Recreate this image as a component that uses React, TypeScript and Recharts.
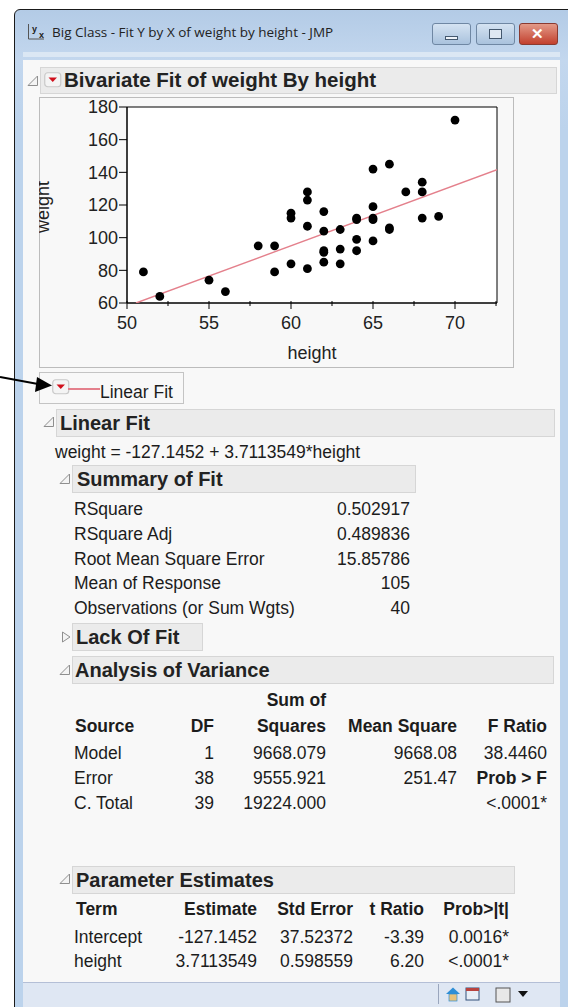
import { CSSProperties, ReactNode } from "react";
import { ReferenceArea, Scatter, ScatterChart, XAxis, YAxis } from "recharts";

const heights = [
  51, 52, 55, 56, 58, 59, 59, 60, 60, 60, 61, 61, 61, 61, 62, 62, 62, 62, 62, 63,
  63, 63, 64, 64, 64, 64, 65, 65, 65, 65, 65, 66, 66, 66, 67, 68, 68, 68, 69, 70,
];
const weights = [
  79, 64, 74, 67, 95, 95, 79, 84, 112, 115, 81, 107, 123, 128, 85, 91, 92, 104, 116, 84,
  93, 105, 92, 99, 111, 112, 98, 111, 112, 119, 142, 105, 106, 145, 128, 112, 128, 134, 113, 172,
];
const fitHeights = [50.55, 72.56];
const fitWeights = [60, 141.6];

const xTicks = [50, 52.5, 55, 57.5, 60, 62.5, 65, 67.5, 70, 72.5];
const yTicks = [60, 80, 100, 120, 140, 160, 180];

const summaryLabels = ["RSquare", "RSquare Adj", "Root Mean Square Error", "Mean of Response", "Observations (or Sum Wgts)"];
const summaryValues = ["0.502917", "0.489836", "15.85786", "105", "40"];
const summaryRowY = [509, 534, 559, 583, 608];

const anovaSources = ["Model", "Error", "C. Total"];
const anovaDf = ["1", "38", "39"];
const anovaSquares = ["9668.079", "9555.921", "19224.000"];
const anovaMean = ["9668.08", "251.47", ""];
const anovaF = ["38.4460", "Prob > F", "<.0001*"];
const anovaRowY = [753, 778, 803];

const paramTerms = ["Intercept", "height"];
const paramEstimates = ["-127.1452", "3.7113549"];
const paramStdErrors = ["37.52372", "0.598559"];
const paramTRatios = ["-3.39", "6.20"];
const paramProbs = ["0.0016*", "<.0001*"];
const paramRowY = [937, 961];

const points = heights.map((height, i) => ({ height, weight: weights[i] }));
const fitLine = fitHeights.map((height, i) => ({ height, weight: fitWeights[i] }));

const SANS = '"Liberation Sans", Arial, sans-serif';

function Text({
  x,
  right,
  y,
  size = 17.5,
  bold,
  font = SANS,
  color = "#1c1c1c",
  children,
}: {
  x?: number;
  right?: number;
  y: number;
  size?: number;
  bold?: boolean;
  font?: string;
  color?: string;
  children: ReactNode;
}) {
  const style: CSSProperties = {
    position: "absolute",
    top: y - 15,
    height: 30,
    lineHeight: "30px",
    fontFamily: font,
    fontSize: size,
    fontWeight: bold ? 700 : 400,
    color,
    whiteSpace: "nowrap",
  };
  if (right !== undefined) style.left = right - 300;
  else style.left = x;
  if (right !== undefined) {
    style.width = 300;
    style.textAlign = "right";
  }
  return <div style={style}>{children}</div>;
}

function Box({ x, y, w, h, style }: { x: number; y: number; w: number; h: number; style?: CSSProperties }) {
  return <div style={{ position: "absolute", left: x, top: y, width: w, height: h, boxSizing: "border-box", ...style }} />;
}

function Header({ x, y, w, h = 28, textX, size = 20, children }: { x: number; y: number; w: number; h?: number; textX: number; size?: number; children: string }) {
  return (
    <>
      <Box x={x} y={y} w={w} h={h} style={{ background: "#ebebeb", border: "1.5px solid #d6d6d6" }} />
      <Text x={textX} y={y + h / 2 - 0.5} size={size} bold color="#222">
        {children}
      </Text>
    </>
  );
}

function Disclosure({ x, y, closed }: { x: number; y: number; closed?: boolean }) {
  return (
    <svg style={{ position: "absolute", left: x, top: y }} width={12} height={12}>
      <path d={closed ? "M1.5 1 L9 6 L1.5 11 Z" : "M1 10.5 L10.5 10.5 L10.5 1 Z"} fill="#f4f4f4" stroke="#8f8f8f" strokeWidth={1} />
    </svg>
  );
}

function RedButton({ x, y }: { x: number; y: number }) {
  return (
    <svg style={{ position: "absolute", left: x, top: y }} width={18} height={16}>
      <rect x={0.75} y={0.75} width={16} height={14} rx={3} fill="#f4f4f4" stroke="#c9c9c9" strokeWidth={1.2} />
      <path d="M4.5 5.5 L13 5.5 L8.75 10 Z" fill="#d0101c" />
    </svg>
  );
}

function XTick({ x, y, payload }: any) {
  const major = payload.value % 5 === 0;
  return (
    <g>
      <line x1={x} x2={x} y1={y - 8} y2={y - 8 + (major ? 8 : 5)} stroke="#000" strokeWidth={1} />
      {major && (
        <text x={x} y={y + 20} textAnchor="middle" fontSize={18} fontFamily={SANS} fill="#222">
          {payload.value}
        </text>
      )}
    </g>
  );
}

function Dot({ cx, cy }: any) {
  return <circle cx={cx} cy={cy} r={4.4} fill="#000" />;
}

function BivariateChart() {
  return (
    <ScatterChart width={475} height={271} margin={{ top: 10, right: 17, bottom: 0, left: 0 }}>
      <XAxis
        type="number"
        dataKey="height"
        domain={[50, 72.56]}
        ticks={xTicks}
        interval={0}
        height={65}
        tick={<XTick />}
        tickLine={false}
        tickMargin={0}
        axisLine={{ stroke: "#000", strokeWidth: 1 }}
        allowDataOverflow
        label={{ value: "height", position: "insideBottom", offset: 9, fontSize: 18, fontFamily: SANS, fill: "#222", dx: 0 }}
      />
      <YAxis
        type="number"
        dataKey="weight"
        domain={[60, 180]}
        ticks={yTicks}
        interval={0}
        width={88}
        tick={{ fontSize: 18, fontFamily: SANS, fill: "#222" }}
        tickSize={8}
        tickMargin={1}
        tickLine={{ stroke: "#000" }}
        axisLine={{ stroke: "#000", strokeWidth: 1 }}
        allowDataOverflow
        label={{ value: "weight", angle: -90, position: "insideLeft", offset: 4, fontSize: 18, fontFamily: SANS, fill: "#222", dy: 28 }}
      />
      <ReferenceArea x1={50} x2={72.56} y1={60} y2={180} fill="#fff" fillOpacity={1} stroke="#000" strokeOpacity={1} />
      <Scatter data={fitLine} line={{ stroke: "#e4808c", strokeWidth: 1.4 }} shape={() => <g />} isAnimationActive={false} />
      <Scatter data={points} shape={<Dot />} isAnimationActive={false} />
    </ScatterChart>
  );
}

export default function App() {
  return (
    <div style={{ position: "absolute", left: 0, top: 0, width: 568, height: 1007, overflow: "hidden", background: "#fff" }}>
      {/* window frame */}
      <Box
        x={14}
        y={9}
        w={600}
        h={1040}
        style={{
          borderRadius: "6px 0 0 0",
          border: "1.5px solid #1a1a1a",
          background: "linear-gradient(180deg, #b3cbe6 0, #c3d7ee 50px, #bcd3ec 120px)",
        }}
      />
      <Box x={23} y={52} w={537} h={5} style={{ background: "#dbe7f4" }} />
      <Box x={23} y={60} w={537} h={922} style={{ background: "#f8f8f8" }} />
      <Box x={23} y={982} w={537} h={25} style={{ background: "#dfe7f3", borderTop: "1.5px solid #b4bfd6" }} />

      {/* title bar */}
      <svg style={{ position: "absolute", left: 26, top: 22 }} width={22} height={20}>
        <path d="M2.5 2 L2.5 17 L18 17" fill="none" stroke="#555" strokeWidth={1} />
        <text x={6} y={10} fontSize={9} fontWeight={700} fontFamily={SANS} fill="#222">y</text>
        <text x={13} y={16} fontSize={9} fontWeight={700} fontFamily={SANS} fill="#222">x</text>
      </svg>
      <Text x={52} y={32} size={13.5} font='"Open Sans", sans-serif' color="#222">
        Big Class - Fit Y by X of weight by height - JMP
      </Text>
      <Box x={432} y={23} w={39} h={22} style={{ borderRadius: 3, border: "1px solid #6f87a3", background: "linear-gradient(180deg, #d5e3f2, #a9c2dd)" }} />
      <Box x={445} y={36} w={13} h={4} style={{ background: "#eef3f9", border: "1px solid #44586e" }} />
      <Box x={476} y={23} w={39} h={22} style={{ borderRadius: 3, border: "1px solid #6f87a3", background: "linear-gradient(180deg, #d5e3f2, #a9c2dd)" }} />
      <Box x={489} y={29} w={13} h={10} style={{ background: "#dfe8f2", border: "1.5px solid #44586e" }} />
      <Box x={519} y={23} w={39} h={22} style={{ borderRadius: 3, border: "1px solid #8a3a30", background: "linear-gradient(180deg, #e39a88, #c2402e)" }} />
      <Text x={531} y={33.5} size={15} bold color="#fff">✕</Text>

      {/* bivariate section */}
      <Disclosure x={27} y={75} />
      <Header x={40} y={67} w={517} h={27} textX={64} size={20.5}>Bivariate Fit of weight By height</Header>
      <RedButton x={44} y={72} />
      <Box x={39} y={97} w={475} h={271} style={{ border: "1.5px solid #bcbcbc" }} />
      <div style={{ position: "absolute", left: 39, top: 97 }}>
        <BivariateChart />
      </div>

      {/* legend */}
      <Box x={39} y={372} w={145} h={32} style={{ border: "1.5px solid #c4c4c4" }} />
      <RedButton x={52} y={379} />
      <Box x={68} y={388} w={32} h={1.5} style={{ background: "#e4808c" }} />
      <Text x={100} y={392} size={17.5}>Linear Fit</Text>

      {/* arrow callout */}
      <svg style={{ position: "absolute", left: 0, top: 370 }} width={60} height={30}>
        <line x1={0} y1={7} x2={38} y2={14} stroke="#000" strokeWidth={2} />
        <path d="M52 15.5 L35 22 L37 7 Z" fill="#000" />
      </svg>

      {/* linear fit */}
      <Disclosure x={43} y={416} />
      <Header x={56} y={409} w={499} textX={60}>Linear Fit</Header>
      <Text x={55} y={452}>weight = -127.1452 + 3.7113549*height</Text>

      <Disclosure x={59} y={473} />
      <Header x={72} y={465} w={344} textX={77}>Summary of Fit</Header>
      {summaryLabels.map((label, i) => (
        <Text key={label} x={74} y={summaryRowY[i]}>{label}</Text>
      ))}
      {summaryValues.map((value, i) => (
        <Text key={i} right={410} y={summaryRowY[i]}>{value}</Text>
      ))}

      <Disclosure x={61} y={631} closed />
      <Header x={72} y={623} w={131} textX={76}>Lack Of Fit</Header>

      <Disclosure x={59} y={664} />
      <Header x={72} y={656} w={482} textX={75}>Analysis of Variance</Header>
      <Text right={326} y={700} bold>Sum of</Text>
      <Text x={75} y={726} bold>Source</Text>
      <Text right={214} y={726} bold>DF</Text>
      <Text right={326} y={726} bold>Squares</Text>
      <Text right={457} y={726} bold>Mean Square</Text>
      <Text right={547} y={726} bold>F Ratio</Text>
      {anovaSources.map((source, i) => (
        <div key={source}>
          <Text x={74} y={anovaRowY[i]}>{source}</Text>
          <Text right={214} y={anovaRowY[i]}>{anovaDf[i]}</Text>
          <Text right={326} y={anovaRowY[i]}>{anovaSquares[i]}</Text>
          <Text right={457} y={anovaRowY[i]}>{anovaMean[i]}</Text>
          <Text right={547} y={anovaRowY[i]} bold={i === 1}>{anovaF[i]}</Text>
        </div>
      ))}

      <Disclosure x={59} y={873} />
      <Header x={72} y={866} w={443} textX={76}>Parameter Estimates</Header>
      <Text x={76} y={909} bold>Term</Text>
      <Text right={257} y={909} bold>Estimate</Text>
      <Text right={353} y={909} bold>Std Error</Text>
      <Text right={424} y={909} bold>t Ratio</Text>
      <Text right={509} y={909} bold>Prob&gt;|t|</Text>
      {paramTerms.map((term, i) => (
        <div key={term}>
          <Text x={74} y={paramRowY[i]}>{term}</Text>
          <Text right={257} y={paramRowY[i]}>{paramEstimates[i]}</Text>
          <Text right={353} y={paramRowY[i]}>{paramStdErrors[i]}</Text>
          <Text right={424} y={paramRowY[i]}>{paramTRatios[i]}</Text>
          <Text right={509} y={paramRowY[i]}>{paramProbs[i]}</Text>
        </div>
      ))}

      {/* status bar icons */}
      <Box x={438} y={984} w={1} h={20} style={{ background: "#9aa6bd" }} />
      <svg style={{ position: "absolute", left: 444, top: 985 }} width={90} height={20}>
        <path d="M2 9 L9 2.5 L16 9 Z" fill="#2f8fd6" />
        <rect x={5} y={9} width={8} height={7} fill="#e9c27a" stroke="#2f8fd6" strokeWidth={0.7} />
        <rect x={22} y={3} width={13} height={12} fill="#e8eef6" stroke="#33507a" strokeWidth={1} />
        <rect x={22} y={3} width={13} height={3} fill="#b8433f" />
        <rect x={52} y={3} width={14} height={14} fill="#e8e8e8" stroke="#555" strokeWidth={1} />
        <path d="M74 6 L84 6 L79 12 Z" fill="#111" />
      </svg>
    </div>
  );
}
